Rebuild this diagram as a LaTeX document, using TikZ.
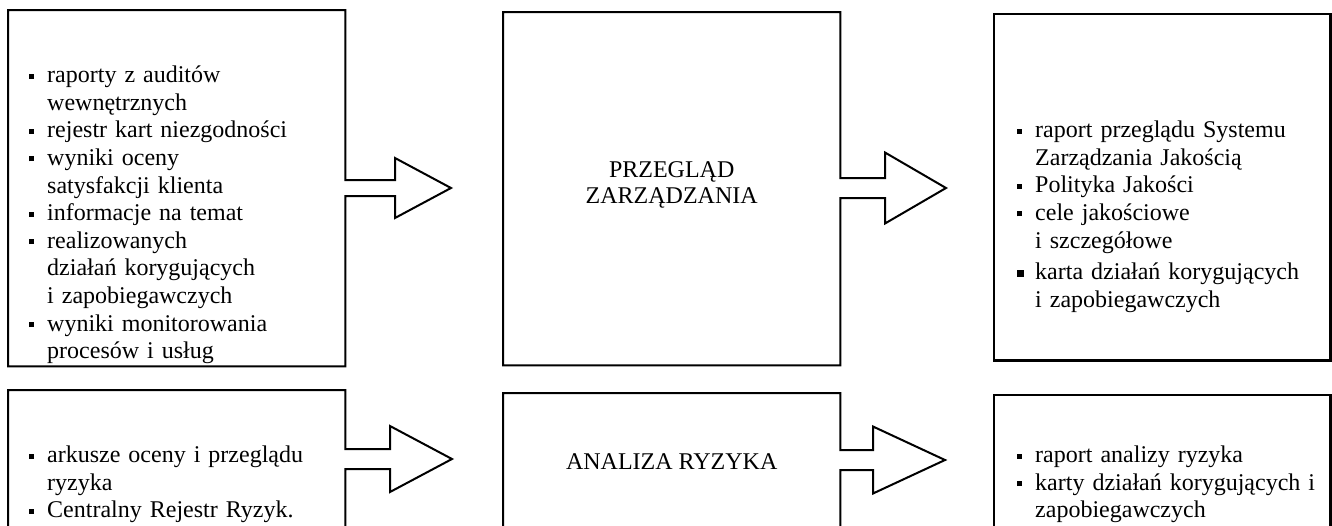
\documentclass[tikz,border=0pt]{standalone}
\usepackage{fontspec}
\setmainfont{Liberation Serif}

% punkt listy: kwadracik z wiszacym wcieciem
\newcommand{\pkt}{\par\noindent\hangindent=18pt\hangafter=1%
  \makebox[18pt][l]{\raisebox{4pt}{\rule{5pt}{5pt}}}}
\newcommand{\pktd}{\par\vspace{4pt}\noindent\hangindent=18pt\hangafter=1%
  \makebox[18pt][l]{\raisebox{3pt}{\rule{7pt}{7pt}}}}

% obrys bloku razem ze strzalka: blok, y osi, pol trzonu, x grotu, pol grotu, x ostrza
\newcommand{\strzal}[6]{%
  \draw[obrys] (#1.north west) -- (#1.north east) -- (#1.east |- 0,#2-#3)
    -- (#4,#2-#3) -- (#4,#2-#5) -- (#6,#2) -- (#4,#2+#5) -- (#4,#2+#3)
    -- (#1.east |- 0,#2+#3) -- (#1.south east) -- (#1.south west) -- cycle;}

\tikzset{
  every node/.style={font=\fontsize{24pt}{27.6pt}\selectfont, inner sep=0pt},
  blok/.style={minimum width=337pt, anchor=north west},
  obrys/.style={draw, line width=2pt, fill=white},
  ramka/.style={draw, line width=2.5pt, fill=white},
  lista/.style={anchor=base west, text width=310pt, align=left},
  napis/.style={align=center, font=\fontsize{24pt}{26pt}\selectfont}
}

\begin{document}
\begin{tikzpicture}[x=1pt,y=-1pt]
  \useasboundingbox (0,0) rectangle (1332,525);
  \clip (0,0) rectangle (1332,525);

  % gorny rzad
  \node[blok, minimum height=356pt] (bA) at (8,10) {};
  \node[blok, minimum height=353pt] (bB) at (503,12) {};
  \node[blok, minimum width=336pt, minimum height=346pt] (bC) at (994,14) {};
  % dolny rzad
  \node[blok, minimum height=140pt] (bD) at (8,390) {};
  \node[blok, minimum height=137pt] (bE) at (503,393) {};
  \node[blok, minimum width=336pt, minimum height=135pt] (bF) at (994,395) {};

  \strzal{bA}{188}{8}{395}{30}{451}
  \strzal{bB}{188}{10}{885}{35.5}{946}
  \draw[ramka] (bC.north west) rectangle (bC.south east);
  \strzal{bD}{459}{10}{390}{33}{452}
  \strzal{bE}{460}{10}{873}{33.5}{945}
  \draw[ramka] (bF.north west) rectangle (bF.south east);

  \node[napis] (nB) at ([yshift=4pt]bB.center) {PRZEGLĄD\\ZARZĄDZANIA};
  \node[napis] (nE) at (bE.center) {ANALIZA RYZYKA};

  \node[lista] (tA) at (29,55) {%
    \pkt raporty z auditów\newline wewnętrznych
    \pkt rejestr kart niezgodności
    \pkt wyniki oceny\newline satysfakcji klienta
    \pkt informacje na temat
    \pkt realizowanych\newline działań korygujących\newline i zapobiegawczych
    \pkt wyniki monitorowania\newline procesów i usług\par};
  \node[lista] (tC) at (1017,110) {%
    \pkt raport przeglądu Systemu\newline Zarządzania Jakością
    \pkt Polityka Jakości
    \pkt cele jakościowe\newline i szczegółowe
    \pktd karta działań korygujących\newline i zapobiegawczych\par};
  \node[lista] (tD) at (29,435) {%
    \pkt arkusze oceny i przeglądu\newline ryzyka
    \pkt Centralny Rejestr Ryzyk.\par};
  \node[lista] (tF) at (1017,435) {%
    \pkt raport analizy ryzyka
    \pkt karty działań korygujących i\newline zapobiegawczych\par};
\end{tikzpicture}
\end{document}
